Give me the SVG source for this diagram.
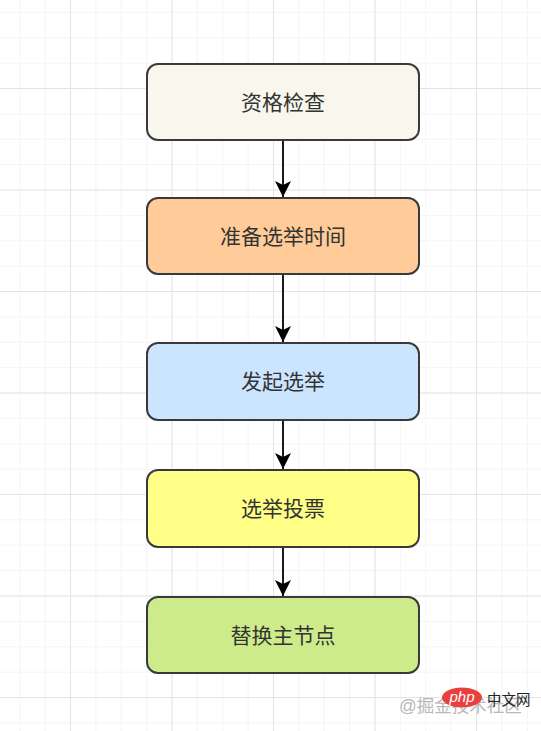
<svg xmlns="http://www.w3.org/2000/svg" width="541" height="731" viewBox="0 0 541 731">
<style>
.node rect{stroke:#3a3a3a;stroke-width:2}
.node text{font-family:"Liberation Sans","Noto Sans CJK SC",sans-serif;font-size:21px;fill:#333;text-anchor:middle;dominant-baseline:central}
.conn line{stroke:#1a1a1a;stroke-width:2}
</style>
<defs>
<pattern id="minor" x="70" y="88" width="25.375" height="25.375" patternUnits="userSpaceOnUse">
<path d="M0 0H25.375M0 0V25.375" fill="none" stroke="#f1f1f1" stroke-width="1.5"/>
</pattern>
<pattern id="major" x="70" y="88" width="101.5" height="101.5" patternUnits="userSpaceOnUse">
<path d="M0 0H101.5M0 0V101.5" fill="none" stroke="#e4e4e4" stroke-width="2"/>
</pattern>
<marker id="arrow" markerUnits="userSpaceOnUse" markerWidth="16" markerHeight="16" refX="16" refY="8" orient="auto" viewBox="0 0 16 16">
<path d="M0 0L16 8L0 16L4 8Z" fill="#000"/>
</marker>
</defs>
<rect width="541" height="731" fill="#fff"/>
<rect width="541" height="731" fill="url(#minor)"/>
<rect width="541" height="731" fill="url(#major)"/>
<g class="conn">
<line x1="283" y1="141" x2="283" y2="197" marker-end="url(#arrow)"/>
<line x1="283" y1="275" x2="283" y2="342" marker-end="url(#arrow)"/>
<line x1="283" y1="421" x2="283" y2="469" marker-end="url(#arrow)"/>
<line x1="283" y1="548" x2="283" y2="596" marker-end="url(#arrow)"/>
</g>
<g id="node1" class="node"><rect x="147" y="64" width="272" height="76" rx="11" fill="#f9f7ed"/><text x="283" y="102">资格检查</text></g>
<g id="node2" class="node"><rect x="147" y="198" width="272" height="76" rx="11" fill="#ffcc99"/><text x="283" y="236">准备选举时间</text></g>
<g id="node3" class="node"><rect x="147" y="343" width="272" height="77" rx="11" fill="#cce5ff"/><text x="283" y="381">发起选举</text></g>
<g id="node4" class="node"><rect x="147" y="470" width="272" height="77" rx="11" fill="#ffff88"/><text x="283" y="508">选举投票</text></g>
<g id="node5" class="node"><rect x="147" y="597" width="272" height="76" rx="11" fill="#cdeb8b"/><text x="283" y="635">替换主节点</text></g>
<g id="watermark">
<text x="399" y="712" font-family="Liberation Sans,'Noto Sans CJK SC',sans-serif" font-size="17.5" fill="#b8b8b8">@掘金技术社区</text>
<ellipse cx="462" cy="697.5" rx="20" ry="10" fill="#e8403f"/>
<text x="462" y="702" font-family="Liberation Sans,sans-serif" font-style="italic" font-size="15" fill="#fff" text-anchor="middle">php</text>
<text x="487" y="705" font-family="Liberation Sans,'Noto Sans CJK SC',sans-serif" font-size="14.5" fill="#222">中文网</text>
</g>
</svg>
